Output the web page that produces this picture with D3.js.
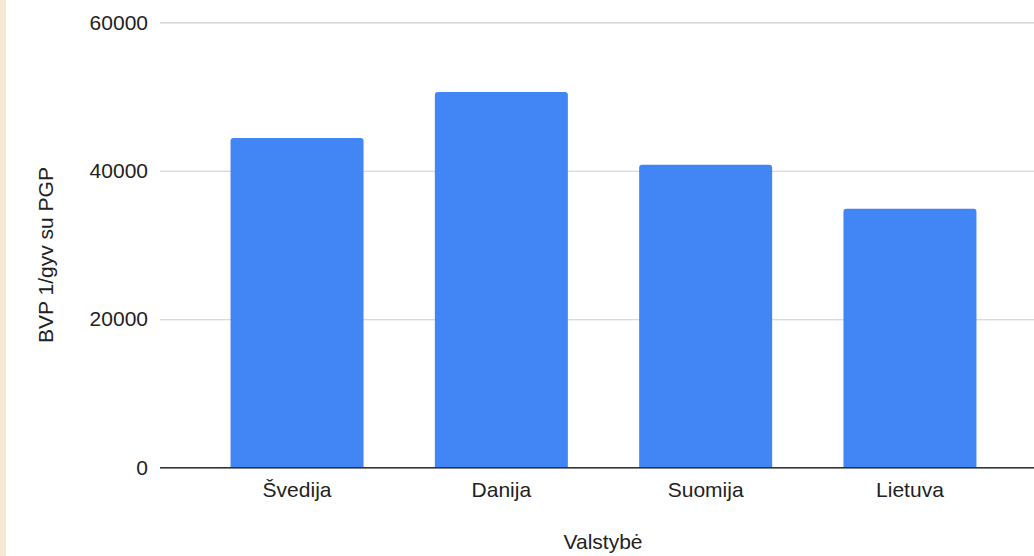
<!DOCTYPE html>
<html>
<head>
<meta charset="utf-8">
<script src="https://cdn.jsdelivr.net/npm/d3@7"></script>
<style>
  html, body { margin: 0; padding: 0; background: #ffffff; }
  svg { display: block; font-family: "Liberation Sans", Arial, sans-serif; }
</style>
</head>
<body>
<svg id="chart" width="1034" height="556"></svg>
<script>
const categories = ["Švedija", "Danija", "Suomija", "Lietuva"];
const values = [44400, 50600, 40800, 34900];
const yTicks = [0, 20000, 40000, 60000];
const yTitle = "BVP 1/gyv su PGP";
const xTitle = "Valstybė";

const svg = d3.select("#chart");
const W = 1034, H = 556;

// left beige strip
svg.append("rect").attr("x", 0).attr("y", 0).attr("width", 6).attr("height", H).attr("fill", "#f3e9d5");

const y = d3.scaleLinear().domain([0, 60000]).range([467.7, 22.3]);
const x = d3.scaleBand().domain(categories).range([195, 1012]).paddingInner(0.349).paddingOuter(0.174);

// gridlines
const yAxis = d3.axisLeft(y).tickValues(yTicks).tickSize(-(W - 160)).tickPadding(12).tickFormat(d3.format("d"));
const gy = svg.append("g").attr("transform", "translate(160,0)").call(yAxis);
gy.select(".domain").remove();
gy.selectAll(".tick line").attr("stroke", "#cccccc").attr("stroke-width", 1.2);
gy.selectAll(".tick text").attr("font-size", 21).attr("fill", "#222222").attr("x", -12);

// bars with rounded top corners
const r = 3;
svg.append("g").selectAll("path").data(categories).join("path")
  .attr("fill", "#4285f4")
  .attr("d", (c, i) => {
    const x0 = x(c), x1 = x(c) + x.bandwidth(), yt = y(values[i]), yb = y(0);
    return `M${x0},${yb}V${yt + r}Q${x0},${yt} ${x0 + r},${yt}H${x1 - r}Q${x1},${yt} ${x1},${yt + r}V${yb}Z`;
  });

// baseline axis
const xAxis = d3.axisBottom(x).tickSize(0).tickPadding(14);
const gx = svg.append("g").attr("transform", `translate(0,${y(0)})`).call(xAxis);
gx.select(".domain").remove();
gx.selectAll(".tick text").attr("font-size", 21).attr("fill", "#222222");
svg.append("line").attr("x1", 160).attr("x2", W).attr("y1", y(0)).attr("y2", y(0))
  .attr("stroke", "#333333").attr("stroke-width", 1.6);

// axis titles
svg.append("text").attr("x", 603).attr("y", 549).attr("text-anchor", "middle")
  .attr("font-size", 21).attr("fill", "#222222").text(xTitle);
svg.append("text").attr("transform", "translate(53,255) rotate(-90)").attr("text-anchor", "middle")
  .attr("font-size", 21).attr("fill", "#222222").text(yTitle);
</script>
</body>
</html>
